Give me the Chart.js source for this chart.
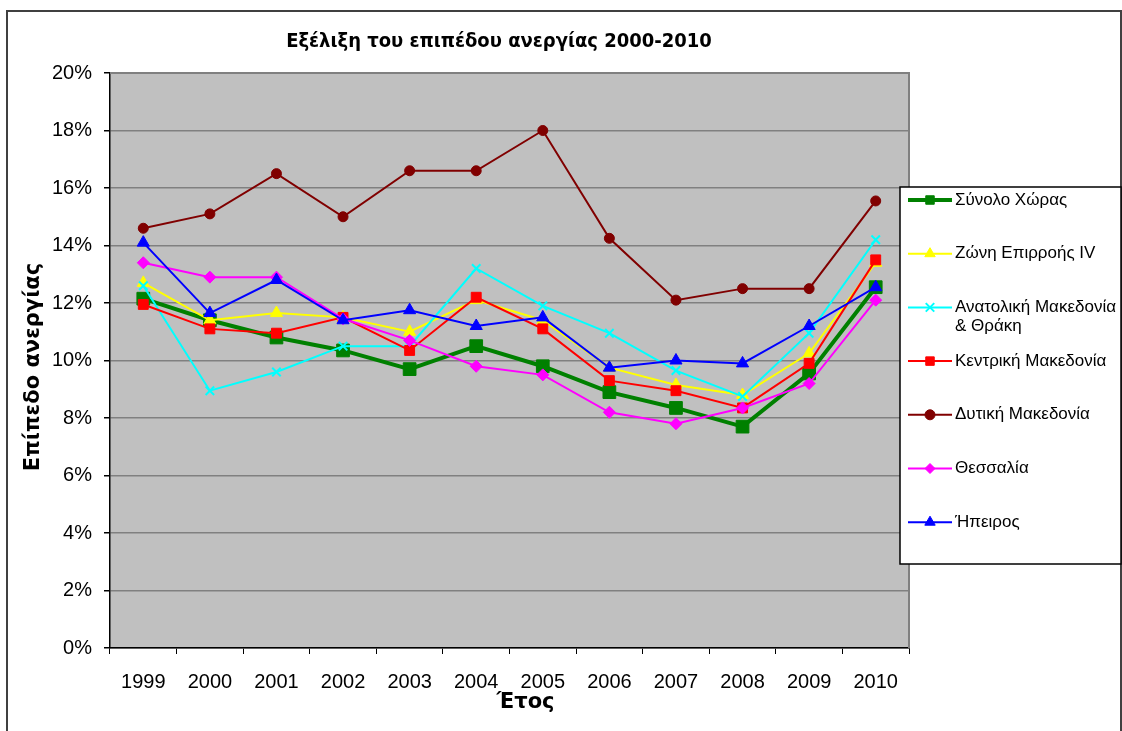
<!DOCTYPE html>
<html lang="el">
<head>
<meta charset="utf-8">
<title>Εξέλιξη του επιπέδου ανεργίας 2000-2010</title>
<script src="https://cdn.jsdelivr.net/npm/chart.js@4.4.1/dist/chart.umd.min.js"></script>
<style>
  html, body { margin: 0; padding: 0; background: #fff; }
  #wrap { width: 1122px; height: 731px; position: relative; }
</style>
</head>
<body>
<div id="wrap"><canvas id="unemploymentChart"></canvas></div>
<script>
  const years = ["1999", "2000", "2001", "2002", "2003", "2004", "2005", "2006", "2007", "2008", "2009", "2010"];
  const seriesNames = [
    "Σύνολο Χώρας",
    "Ζώνη Επιρροής IV",
    "Ανατολική Μακεδονία & Θράκη",
    "Κεντρική Μακεδονία",
    "Δυτική Μακεδονία",
    "Θεσσαλία",
    "Ήπειρος"
  ];
  const synoloXoras = [12.15, 11.4, 10.8, 10.35, 9.7, 10.5, 9.8, 8.9, 8.35, 7.7, 9.55, 12.55];
  const zoniEpirroisIV = [12.7, 11.4, 11.65, 11.5, 11.0, 12.1, 11.4, 9.75, 9.15, 8.8, 10.25, 13.4];
  const anatolikiMakedonia = [12.6, 8.95, 9.6, 10.5, 10.5, 13.2, 11.9, 10.95, 9.65, 8.75, 10.95, 14.2];
  const kentrikiMakedonia = [11.95, 11.1, 10.95, 11.5, 10.35, 12.2, 11.1, 9.3, 8.95, 8.35, 9.9, 13.5];
  const dytikiMakedonia = [14.6, 15.1, 16.5, 15.0, 16.6, 16.6, 18.0, 14.25, 12.1, 12.5, 12.5, 15.55];
  const thessalia = [13.4, 12.9, 12.9, 11.45, 10.7, 9.8, 9.5, 8.2, 7.8, 8.35, 9.2, 12.1];
  const ipeiros = [14.1, 11.65, 12.8, 11.4, 11.75, 11.2, 11.5, 9.75, 10.0, 9.9, 11.2, 12.55];
  const yTicks = [0, 2, 4, 6, 8, 10, 12, 14, 16, 18, 20];

  const titleText = "Εξέλιξη του επιπέδου ανεργίας 2000-2010";
  const yTitle = "Επίπεδο ανεργίας";
  const xTitle = "Έτος";

  const allSeries = [synoloXoras, zoniEpirroisIV, anatolikiMakedonia, kentrikiMakedonia, dytikiMakedonia, thessalia, ipeiros];
  const styles = [
    { color: "#008000", width: 4, point: "rect", radius: 9 },
    { color: "#ffff00", width: 2, point: "triangle", radius: 7 },
    { color: "#00ffff", width: 2, point: "crossRot", radius: 6 },
    { color: "#ff0000", width: 2, point: "rect", radius: 7 },
    { color: "#800000", width: 2, point: "circle", radius: 5 },
    { color: "#ff00ff", width: 2, point: "rectRot", radius: 6 },
    { color: "#0000ff", width: 2, point: "triangle", radius: 7 }
  ];
  const legendRadius = [6, 6, 6, 6, 5, 5, 6];

  const datasets = allSeries.map((values, i) => ({
    label: seriesNames[i],
    data: values,
    borderColor: styles[i].color,
    backgroundColor: styles[i].color,
    borderWidth: styles[i].width,
    pointStyle: styles[i].point,
    pointRadius: styles[i].radius,
    pointBackgroundColor: styles[i].color,
    pointBorderColor: styles[i].color,
    pointBorderWidth: styles[i].point === "crossRot" ? 2 : 1,
    tension: 0,
    order: allSeries.length - i
  }));

  // page frame, grey plot area, titles and the legend box
  const framePlugin = {
    id: "frame",
    beforeDraw(chart) {
      const { ctx, chartArea: a } = chart;
      ctx.save();
      ctx.fillStyle = "#ffffff";
      ctx.fillRect(0, 0, chart.width, chart.height);
      ctx.fillStyle = "#c0c0c0";
      ctx.fillRect(a.left, a.top, a.right - a.left, a.bottom - a.top);
      ctx.restore();
    },
    beforeDatasetsDraw(chart) {
      const { ctx, chartArea: a } = chart;
      ctx.save();
      ctx.strokeStyle = "#808080";
      ctx.lineWidth = 2;
      ctx.beginPath();
      ctx.moveTo(a.left, a.top);
      ctx.lineTo(a.right, a.top);
      ctx.lineTo(a.right, a.bottom);
      ctx.stroke();
      ctx.restore();
    },
    afterDraw(chart) {
      const { ctx, chartArea: a } = chart;
      ctx.save();

      // outer frame (bottom edge runs off the picture)
      ctx.strokeStyle = "#404040";
      ctx.lineWidth = 2;
      ctx.strokeRect(7, 11, 1114, 760);

      ctx.fillStyle = "#000";
      ctx.textAlign = "center";
      ctx.textBaseline = "middle";
      ctx.font = 'bold 20px "DejaVu Sans Condensed", "DejaVu Sans", sans-serif';
      ctx.fillText(titleText, 499, 42);

      ctx.font = 'bold 21px "DejaVu Sans", sans-serif';
      ctx.fillText(xTitle, (a.left + a.right) / 2 + 16, 703);

      ctx.save();
      ctx.translate(34, 367);
      ctx.rotate(-Math.PI / 2);
      ctx.fillText(yTitle, 0, 0);
      ctx.restore();

      // legend
      const box = { x: 900, y: 187, w: 221, h: 377 };
      ctx.fillStyle = "#fff";
      ctx.fillRect(box.x, box.y, box.w, box.h);
      ctx.strokeStyle = "#000";
      ctx.lineWidth = 1.5;
      ctx.strokeRect(box.x, box.y, box.w, box.h);

      ctx.font = '17px "Liberation Sans", Arial, sans-serif';
      ctx.textAlign = "left";
      const textX = 955;
      const maxW = 164;
      chart.data.datasets.forEach((ds, i) => {
        const y = 200 + i * 53.7;
        ctx.strokeStyle = ds.borderColor;
        ctx.lineWidth = ds.borderWidth;
        ctx.beginPath();
        ctx.moveTo(908, y);
        ctx.lineTo(952, y);
        ctx.stroke();
        ctx.fillStyle = ds.borderColor;
        ctx.lineWidth = ds.pointStyle === "crossRot" ? 2 : 1;
        Chart.helpers.drawPoint(ctx, { pointStyle: ds.pointStyle, radius: legendRadius[i], rotation: 0, borderWidth: 1 }, 930, y);

        // wrap long names
        const words = ds.label.split(" ");
        const lines = [];
        let line = "";
        words.forEach(w => {
          const test = line ? line + " " + w : w;
          if (ctx.measureText(test).width > maxW && line) {
            lines.push(line);
            line = w;
          } else {
            line = test;
          }
        });
        lines.push(line);
        ctx.fillStyle = "#000";
        lines.forEach((l, k) => ctx.fillText(l, textX, y + k * 19));
      });
      ctx.restore();
    }
  };

  new Chart(document.getElementById("unemploymentChart"), {
    type: "line",
    data: { labels: years, datasets },
    options: {
      responsive: true,
      maintainAspectRatio: false,
      animation: false,
      events: [],
      layout: { padding: { top: 73, right: 213, left: 0, bottom: 0 } },
      plugins: {
        legend: { display: false },
        title: { display: false },
        tooltip: { enabled: false }
      },
      scales: {
        x: {
          offset: true,
          grid: {
            offset: true,
            drawOnChartArea: false,
            tickLength: 6,
            tickColor: "#000"
          },
          border: { color: "#000", width: 1.5 },
          ticks: {
            color: "#000",
            padding: 16,
            maxRotation: 0,
            autoSkip: false,
            font: { family: '"Liberation Sans", Arial, sans-serif', size: 20 }
          },
          afterFit(scale) { scale.height = 83; }
        },
        y: {
          min: 0,
          max: 20,
          afterBuildTicks(scale) { scale.ticks = yTicks.map(v => ({ value: v })); },
          grid: {
            color: "#808080",
            lineWidth: 1.5,
            tickLength: 6,
            tickColor: "#000"
          },
          border: { color: "#000", width: 1.5 },
          ticks: {
            color: "#000",
            padding: 12,
            font: { family: '"Liberation Sans", Arial, sans-serif', size: 20 },
            callback: v => v + "%"
          },
          afterFit(scale) { scale.width = 110; }
        }
      }
    },
    plugins: [framePlugin]
  });
</script>
</body>
</html>
